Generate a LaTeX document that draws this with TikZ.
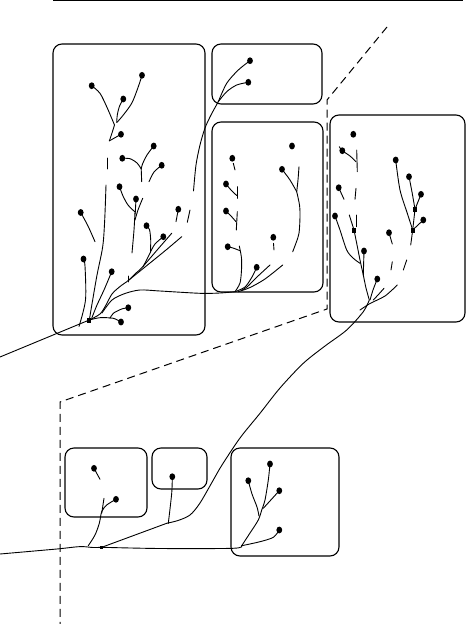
\documentclass[tikz,border=0pt]{standalone}
\usetikzlibrary{shapes.geometric}
\tikzset{
  tl/.style={line width=0.9pt, line cap=round},
  dot/.style={ellipse, fill=black, inner sep=0pt, minimum width=5.8pt, minimum height=6.8pt},
  sqd/.style={rectangle, fill=black, inner sep=0pt, minimum width=4pt, minimum height=5pt},
  panel/.style={draw, line width=1.1pt, rounded corners=9pt},
  guide/.style={line width=1pt, dash pattern=on 8pt off 5pt}
}
\begin{document}
\begin{tikzpicture}[x=1pt,y=-1pt]
\useasboundingbox (0,0) rectangle (466,624);
% top rule
\draw[line width=1.3pt] (53,0.6) -- (463,0.6);
% guide (dashed)
\draw[guide] (387,27) -- (327,100) -- (327,309) -- (60,402) -- (60,624);
% panels
\draw[panel] (53,44) rectangle (205,335);
\draw[panel] (212,44) rectangle (322,104);
\draw[panel] (212,122) rectangle (323,292);
\draw[panel] (330,115) rectangle (465,322);
\draw[panel] (65,448) rectangle (147,517);
\draw[panel] (152,448) rectangle (207,489);
\draw[panel] (231,448) rectangle (339,556);

% ---------- Box A dots ----------
\node[dot] (a1) at (91.7,85.7) {};
\node[dot] (a2) at (142,75.3) {};
\node[dot] (a3) at (123.3,99) {};
\node[dot] (a4) at (121,134.3) {};
\node[dot] (b1) at (122.3,158.3) {};
\node[dot] (b2) at (153.7,146) {};
\node[dot] (b3) at (161.7,165.3) {};
\node[dot] (c1) at (119.5,186.7) {};
\node[dot] (c2) at (136,199) {};
\node[dot] (d1) at (80.7,212.5) {};
\node[dot] (d2) at (178.3,209.3) {};
\node[dot] (f1) at (146.5,225.7) {};
\node[dot] (f2) at (163.3,236.7) {};
\node[dot] (g1) at (83.5,259) {};
\node[dot] (g2) at (111.7,271.7) {};
\node[dot] (h1) at (128.3,307.7) {};
\node[dot] (h2) at (121,322) {};
\node[sqd] (rA) at (89.3,320) {};
\coordinate (jA) at (114.5,125);
\coordinate (jB) at (141.2,169);
\coordinate (jF) at (150.5,252);
\coordinate (jS) at (128.3,280.5);
\coordinate (jT) at (143,266.5);
\coordinate (outA) at (0,357);

% Box B dots
\node[dot] (e1) at (250,60.7) {};
\node[dot] (e2) at (248.3,82.3) {};
\coordinate (jE) at (218.3,101.7);

% Box C dots
\node[dot] (k1) at (232.3,158.3) {};
\node[dot] (k2) at (226,184) {};
\node[dot] (k3) at (226,211) {};
\node[dot] (k4) at (227.7,246.7) {};
\node[dot] (k5) at (256.7,267.3) {};
\node[dot] (k6) at (273.3,237.3) {};
\node[dot] (k7) at (292,146) {};
\node[dot] (k8) at (282,169.3) {};
\coordinate (rC) at (235,291.7);
\coordinate (jK) at (296.7,191.7);

% Box D dots
\node[dot] (m1) at (353.3,134.3) {};
\node[dot] (m2) at (342.3,150.7) {};
\node[dot] (m3) at (338.7,187.7) {};
\node[dot] (m4) at (335,216) {};
\node[sqd] (m5) at (354,230) {};
\node[dot] (m6) at (364,251) {};
\node[dot] (m7) at (377.3,279) {};
\node[dot] (n1) at (395.7,160) {};
\node[dot] (n2) at (409,176.7) {};
\node[dot] (n3) at (421,194.3) {};
\node[dot] (n4) at (423.3,220) {};
\node[dot] (n5) at (389,232.7) {};
\node[sqd] (s1) at (415,209.3) {};
\node[sqd] (s2) at (412.7,230) {};
\coordinate (jM) at (363.3,275);
\coordinate (rD) at (369.3,300);

% bottom dots
\node[dot] (q1) at (94,468.3) {};
\node[dot] (q2) at (116,499.3) {};
\node[dot] (r1) at (172.3,476.7) {};
\node[dot] (p1) at (270,464) {};
\node[dot] (p2) at (248.3,480.7) {};
\node[dot] (p3) at (279.3,490.7) {};
\node[dot] (p4) at (279.3,530) {};
\node[sqd, minimum width=3.5pt, minimum height=3.5pt] (rB) at (101.7,547.3) {};
\coordinate (rG) at (241.7,545.7);
\coordinate (jG) at (261.7,510);
\coordinate (outB) at (0,554);

% ---------- Box A edges ----------
\draw[tl] plot[smooth] coordinates {(a1.center) (100,93.3) (106.7,106.7) (111.7,118.3) (jA)};
\draw[tl] plot[smooth] coordinates {(a2.center) (138.3,86.7) (131.7,103.3) (121.7,117) (116.7,122.5)};
\draw[tl] plot[smooth] coordinates {(a3.center) (119.3,106.7) (117.3,115) (116.7,122)};
\draw[tl] plot[smooth] coordinates {(jA) (112,133) (109.3,141)};
\draw[tl] plot[smooth] coordinates {(a4.center) (115,137.7) (109.8,140.6)};
\draw[tl] (107.7,158) -- (107.7,169);
\draw[tl] plot[smooth] coordinates {(106,185) (104.7,220) (102.7,246.7) (96.7,276.7) (rA.center)};
\draw[tl] plot[smooth] coordinates {(b1.center) (130,158.7) (137,163) (jB)};
\draw[tl] plot[smooth] coordinates {(b2.center) (147,155) (142.5,164) (jB)};
\draw[tl] (jB) -- (141.7,181.7);
\draw[tl] plot[smooth] coordinates {(b3.center) (154,172) (149,181.7)};
\draw[tl] plot[smooth] coordinates {(c1.center) (123,196) (128,205) (134.5,211.5)};
\draw[tl] plot[smooth] coordinates {(142.7,198.3) (138,210) (135,220)};
\draw[tl] (c2.center) -- (135.2,214);
\draw[tl] plot[smooth] coordinates {(135,212) (134,230) (132,253)};
\draw[tl] plot[smooth] coordinates {(d1.center) (88,226) (95,241.7)};
\draw[tl] (d2.center) -- (176,221.7);
\draw[tl] (190,210) -- (187.3,222.3);
\draw[tl] plot[smooth] coordinates {(f1.center) (149.5,229.5) (150.7,240) (jF)};
\draw[tl] plot[smooth] coordinates {(f2.center) (155,244) (jF)};
\draw[tl] plot[smooth] coordinates {(rA.center) (100,314) (106,305) (112,294) (120,286.5) (jS) (136,273) (jT) (jF)};
\draw[tl] (128.3,276) -- (128.3,282);
\draw[tl] plot[smooth] coordinates {(jS) (150,263) (166,250) (181.7,236.7)};
\draw[tl] plot[smooth] coordinates {(jT) (158,249) (171.7,233.3)};
\draw[tl] plot[smooth] coordinates {(102,313) (112,300) (125,293.5) (140,290) (160,291) (200,293.3) (220,293) (rC)};
\draw[tl] plot[smooth] coordinates {(110,318.3) (113.3,313.3) (121.7,309) (h1.center)};
\draw[tl] plot[smooth] coordinates {(rA.center) (100,317.7) (113.3,318.3) (h2.center)};
\draw[tl] plot[smooth] coordinates {(g1.center) (85,266) (85.5,300) (79,326.5)};
\draw[tl] plot[smooth] coordinates {(g2.center) (104,290) (97,305) (91.7,318.3)};
\draw[tl] (rA.center) -- (outA);

% ---------- Box B edges ----------
\draw[tl] plot[smooth] coordinates {(e1.center) (238.3,70) (226.7,83.3) (jE)};
\draw[tl] plot[smooth] coordinates {(e2.center) (236.7,85) (226.7,91.7) (jE)};
\draw[tl] plot[smooth] coordinates {(jE) (211,115) (205,128) (200,145) (196,165) (193.5,191)};

% ---------- Box C edges ----------
\draw[tl] (233.3,163.3) -- (235,170);
\draw[tl] plot[smooth] coordinates {(k2.center) (231,190) (236.7,195.5)};
\draw[tl] (237.3,186.7) -- (237.3,198.3);
\draw[tl] plot[smooth] coordinates {(k3.center) (231,216) (236,221.7)};
\draw[tl] (237.3,211.7) -- (236.3,230);
\draw[tl] plot[smooth] coordinates {(k4.center) (233,248) (240,250.7)};
\draw[tl] plot[smooth] coordinates {(239.3,246) (241.5,258) (241.5,270) (240,283) (rC)};
\draw[tl] plot[smooth] coordinates {(k5.center) (252,277) (245,287) (rC)};
\draw[tl] plot[smooth] coordinates {(270,265) (257,277) (247,287) (241,290.5)};
\draw[tl] plot[smooth] coordinates {(282.7,265) (265,279) (250,287.5) (238.3,291.7)};
\draw[tl] (273.5,243.3) -- (274,250);
\draw[tl] plot[smooth] coordinates {(k8.center) (290,180) (jK)};
\draw[tl] plot[smooth] coordinates {(299,166.7) (298,180) (jK)};
\draw[tl] plot[smooth] coordinates {(jK) (299.5,205) (300,216.7) (299,233.3) (296,243) (292.7,251.7)};

% ---------- Box D edges ----------
\draw[tl] plot[smooth] coordinates {(339.3,146.7) (m2.center) (350,156) (356,161.7)};
\draw[tl] (356.7,150) -- (357.3,171.7);
\draw[tl] (m3.center) -- (344,199.3);
\draw[tl] (356,188.3) -- (355,199.3);
\draw[tl] plot[smooth] coordinates {(m4.center) (340,230) (346.7,250) (353,258) (360,263.3)};
\draw[tl] (349.3,215) -- (m5.center);
\draw[tl] (356,215) -- (356,226.7);
\draw[tl] plot[smooth] coordinates {(m5.center) (356.7,243.3) (360,260) (jM)};
\draw[tl] (m6.center) -- (jM);
\draw[tl] plot[smooth] coordinates {(jM) (366,288) (rD)};
\draw[tl] plot[smooth] coordinates {(m7.center) (373,290) (370,300)};
\draw[tl] plot[smooth] coordinates {(384,288.3) (378,295) (373.3,300)};
\draw[tl] plot[smooth] coordinates {(397.3,285) (385,296) (370,303.5) (360,310)};
\draw[tl] plot[smooth] coordinates {(n1.center) (400,190) (407.3,213.3) (s2.center)};
\draw[tl] plot[smooth] coordinates {(n2.center) (412,192) (s1.center)};
\draw[tl] (n3.center) -- (s1.center);
\draw[tl] (s1.center) -- (s2.center);
\draw[tl] (n4.center) -- (s2.center);
\draw[tl] (s2.center) -- (410.7,245);
\draw[tl] (n5.center) -- (392.3,244);
\draw[tl] (392.3,261.7) -- (391,270);
\draw[tl] (406.7,260) -- (403.3,270);

% ---------- long trunk from box D ----------
\draw[tl] plot[smooth] coordinates {(rD) (363.3,311.7) (346.7,330) (325,346) (303.3,363.3) (280,388) (260,413.3) (240,438) (222,465) (213.3,480) (200,503) (190,515) (178,520.5) (166.7,523.3)};
\draw[tl] (rB.center) -- (166.7,523.3);

% ---------- bottom edges ----------
\draw[tl] (q1.center) -- (100,479.3);
\draw[tl] (104,498.3) -- (101.7,513.3);
\draw[tl] plot[smooth] coordinates {(q2.center) (106.7,505) (101.7,511.7) (99.3,523.3) (95,535) (88.3,545.7)};
\draw[tl] plot[smooth] coordinates {(outB) (56.7,549) (80,546.6) (93,547.5) (rB.center)};
\draw[tl] plot[smooth] coordinates {(r1.center) (171.7,493.3) (168.3,523.3)};
\draw[tl] plot[smooth] coordinates {(rB.center) (160,548.5) (233,548.3) (rG)};
\draw[tl] plot[smooth] coordinates {(p1.center) (268.3,480) (265,500) (jG)};
\draw[tl] plot[smooth] coordinates {(p2.center) (252,494) (257,507) (259,516)};
\draw[tl] (p3.center) -- (263.3,508.3);
\draw[tl] plot[smooth] coordinates {(jG) (258.3,520) (250,533) (rG)};
\draw[tl] plot[smooth] coordinates {(p4.center) (273.3,537.3) (260,541.7) (rG)};
\end{tikzpicture}
\end{document}
